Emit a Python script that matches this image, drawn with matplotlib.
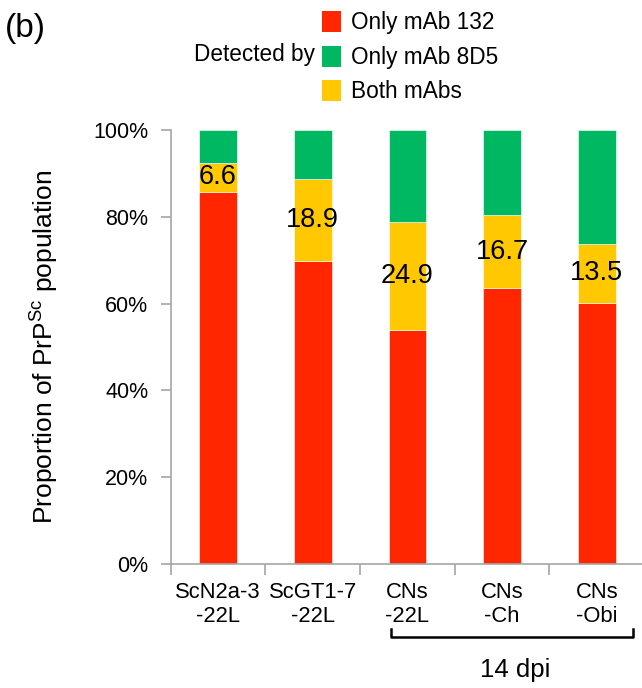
import matplotlib
matplotlib.use('Agg')
from matplotlib import pyplot as plt
from matplotlib.patches import Patch
from matplotlib.ticker import FixedLocator, PercentFormatter
import numpy as np

plt.rcParams['font.family'] = ['Liberation Sans', 'DejaVu Sans']

categories = ['ScN2a-3\n-22L', 'ScGT1-7\n-22L', 'CNs\n-22L', 'CNs\n-Ch', 'CNs\n-Obi']
only_132 = [85.8, 69.9, 53.9, 63.6, 60.2]
both = [6.6, 18.9, 24.9, 16.7, 13.5]
only_8d5 = [100 - a - b for a, b in zip(only_132, both)]
series_names = ['Only mAb 132', 'Only mAb 8D5', 'Both mAbs']

RED = '#FF2600'
GREEN = '#00B862'
YELLOW = '#FFC800'
AXIS_GREY = '#A6A6A6'

fig = plt.figure(figsize=(6.42, 6.88), dpi=100)
ax = fig.add_axes([170.7 / 642, 1 - 564 / 688, 473.5 / 642, 434 / 688])

x = np.arange(len(categories))
width = 0.4
ax.bar(x, only_132, width, color=RED, edgecolor='white', linewidth=0.4)
ax.bar(x, both, width, bottom=only_132, color=YELLOW, edgecolor='white', linewidth=0.4)
tops = [a + b for a, b in zip(only_132, both)]
ax.bar(x, only_8d5, width, bottom=tops, color=GREEN, edgecolor='white', linewidth=0.4)

for xi, base, val in zip(x, only_132, both):
    ax.text(xi, base + val / 2, f'{val:.1f}', ha='center', va='center', fontsize=19.5)

ax.set_xlim(-0.5, len(categories) - 0.5)
ax.set_ylim(0, 100)
ax.yaxis.set_major_locator(FixedLocator(np.arange(0, 101, 20)))
ax.yaxis.set_major_formatter(PercentFormatter(decimals=0))

# Excel style: ticks between categories, labels at centres
ax.xaxis.set_major_locator(FixedLocator(np.arange(-0.5, len(categories), 1.0)))
ax.xaxis.set_minor_locator(FixedLocator(x))
ax.set_xticklabels([''] * (len(categories) + 1))
ax.set_xticklabels(categories, minor=True)
ax.tick_params(axis='x', which='major', length=8, color=AXIS_GREY, width=1.2)
ax.tick_params(axis='x', which='minor', length=0, pad=13, labelsize=15.8)
ax.tick_params(axis='y', length=7, color=AXIS_GREY, width=1.2, labelsize=15.5, pad=9)

for side in ['top', 'right']:
    ax.spines[side].set_visible(False)
for side in ['left', 'bottom']:
    ax.spines[side].set_color(AXIS_GREY)
    ax.spines[side].set_linewidth(1.2)

ax.set_ylabel('Proportion of PrP$^{\\mathregular{Sc}}$ population', fontsize=19, labelpad=24)

# legend
handles = [Patch(facecolor=c) for c in (RED, GREEN, YELLOW)]
fig.legend(handles, series_names, loc='upper left', bbox_to_anchor=(313 / 642, 1 - 2 / 688),
           frameon=False, fontsize=16.3, handlelength=0.85, handleheight=1.05,
           handletextpad=0.45, labelspacing=0.5, borderaxespad=0)
fig.text(315 / 642, 1 - 54 / 688, 'Detected by', ha='right', va='center', fontsize=16.3)
fig.text(5 / 642, 1 - 29 / 688, '(b)', ha='left', va='center', fontsize=24)

# bracket for 14 dpi group
bx0, bx1, by, bh = 390.7 / 642, 633 / 642, 1 - 636.7 / 688, 8 / 688
fig.add_artist(plt.Line2D([bx0, bx0, bx1, bx1], [by + bh, by, by, by + bh],
                          transform=fig.transFigure, color='black', linewidth=1.8))
fig.text(515 / 642, 1 - 670 / 688, '14 dpi', ha='center', va='center', fontsize=18.5)

fig.savefig('out.png', dpi=100)
